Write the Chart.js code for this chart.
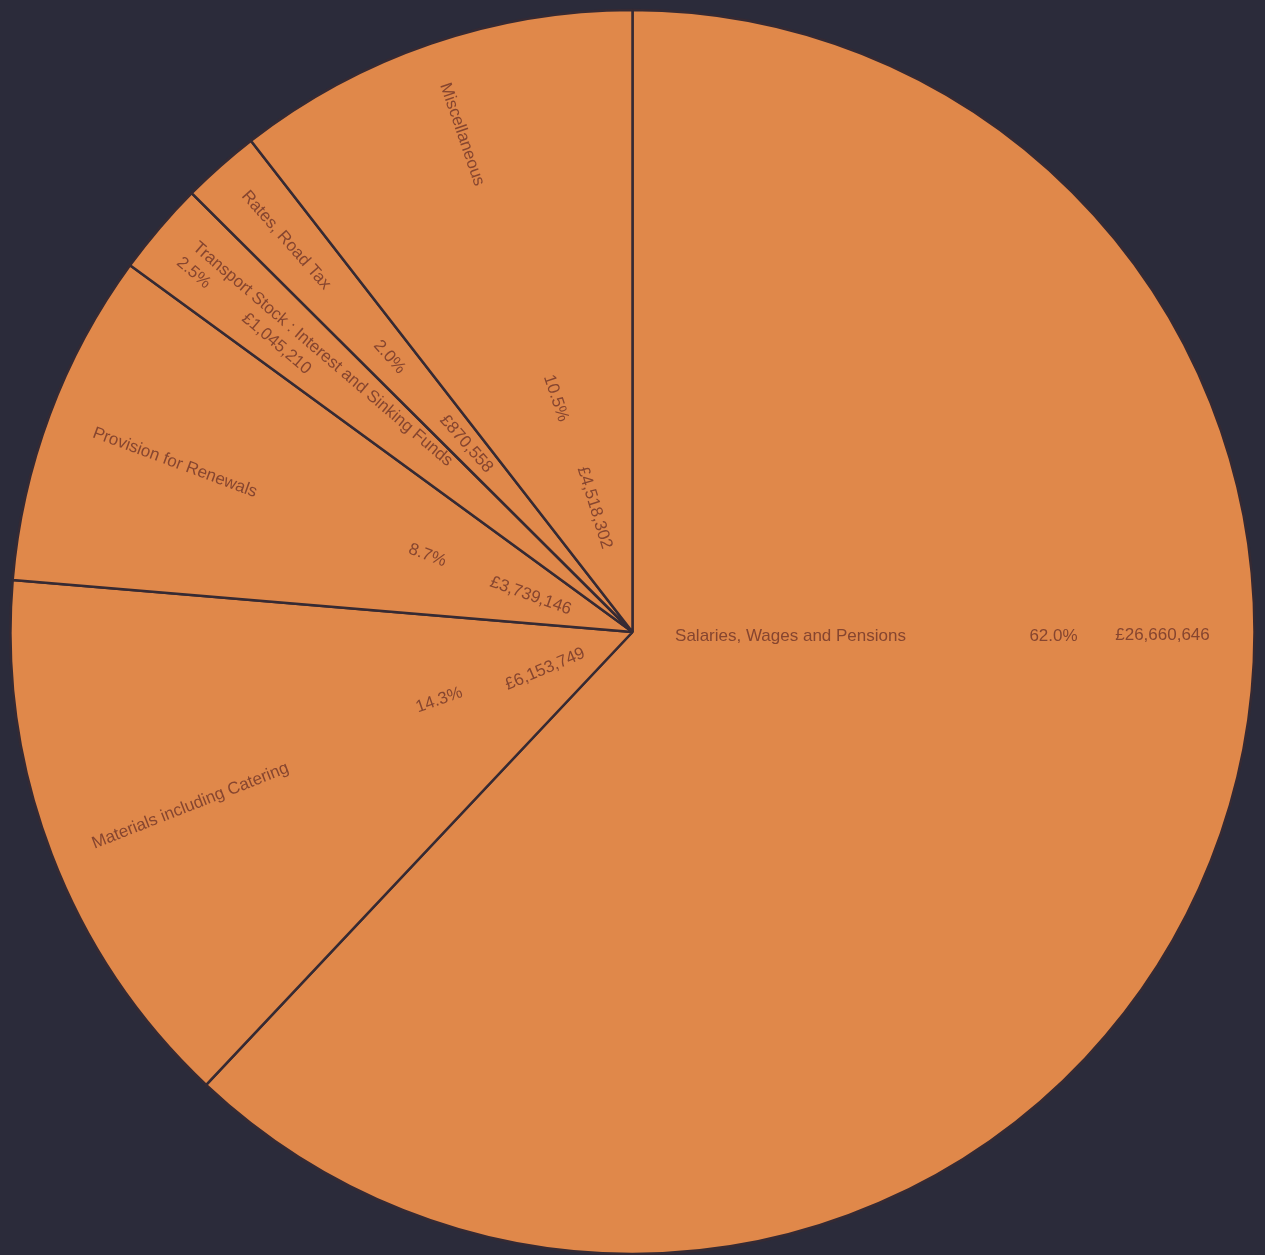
<!DOCTYPE html>
<html>
<head>
<meta charset="utf-8">
<title>Expenditure</title>
<script src="https://cdn.jsdelivr.net/npm/chart.js@4.4.1/dist/chart.umd.min.js"></script>
<style>
  html, body { margin: 0; padding: 0; background: #2b2b3a; }
  canvas { display: block; }
</style>
</head>
<body>
<canvas id="pie" width="1265" height="1255"></canvas>
<script>
/* data */
var categories = [
    'Salaries, Wages and Pensions',
    'Materials including Catering',
    'Provision for Renewals',
    'Transport Stock : Interest and Sinking Funds',
    'Rates, Road Tax',
    'Miscellaneous'
];
var amounts = [26660646, 6153749, 3739146, 1045210, 870558, 4518302];
var pctLabels = ['62.0%', '14.3%', '8.7%', '2.5%', '2.0%', '10.5%'];
var amountLabels = ['£26,660,646', '£6,153,749', '£3,739,146', '£1,045,210', '£870,558', '£4,518,302'];

/* where each text sits: [fraction of slice angle, radius, sideways shift] */
var labelLayout = [
    { name: [0.403, 158, 4], pct: [0.403, 421, 4], amt: [0.403, 530, 4] },
    { name: [0.49, 475, 0], pct: [0.53, 205, 0], amt: [0.46, 95, 0] },
    { name: [0.495, 488, 0], pct: [0.5, 219, 0], amt: [0.47, 108, 0] },
    { name: [0.5, 416, -10], pct: [0.5, 567, 12], amt: [0.5, 458, 12] },
    { name: [0.5, 523, 0], pct: [0.5, 367, 0], amt: [0.5, 251, 0] },
    { name: [0.5, 526, 0], pct: [0.52, 246, 0], amt: [0.55, 130, 0] }
];

var orange = '#e0884a';
var lineColor = '#362a33';
var textColor = '#86452f';

/* radial labels drawn on top of the arcs */
var radialLabels = {
    id: 'radialLabels',
    afterDatasetsDraw: function (chart) {
        var ctx = chart.ctx;
        var meta = chart.getDatasetMeta(0);
        ctx.save();
        ctx.font = '17px "Liberation Sans", Arial, sans-serif';
        ctx.fillStyle = textColor;
        ctx.textAlign = 'center';
        ctx.textBaseline = 'middle';
        meta.data.forEach(function (arc, i) {
            var p = arc.getProps(['x', 'y', 'startAngle', 'endAngle'], true);
            var lay = labelLayout[i];
            var texts = [[categories[i], lay.name], [pctLabels[i], lay.pct], [amountLabels[i], lay.amt]];
            texts.forEach(function (t) {
                var a = p.startAngle + (p.endAngle - p.startAngle) * t[1][0];
                var r = t[1][1];
                var rot = Math.cos(a) < 0 ? a + Math.PI : a;
                ctx.save();
                ctx.translate(p.x + Math.cos(a) * r, p.y + Math.sin(a) * r);
                ctx.rotate(rot);
                ctx.fillText(t[0], 0, t[1][2]);
                ctx.restore();
            });
        });
        ctx.restore();
    }
};

var chart = new Chart(document.getElementById('pie'), {
    type: 'pie',
    data: {
        labels: categories,
        datasets: [{
            data: amounts,
            backgroundColor: orange,
            borderColor: lineColor,
            borderWidth: 2.5,
            radius: 622
        }]
    },
    options: {
        responsive: false,
        animation: false,
        layout: { padding: { top: 9 } },
        plugins: {
            legend: { display: false },
            tooltip: { enabled: false }
        }
    },
    plugins: [radialLabels]
});
</script>
</body>
</html>
